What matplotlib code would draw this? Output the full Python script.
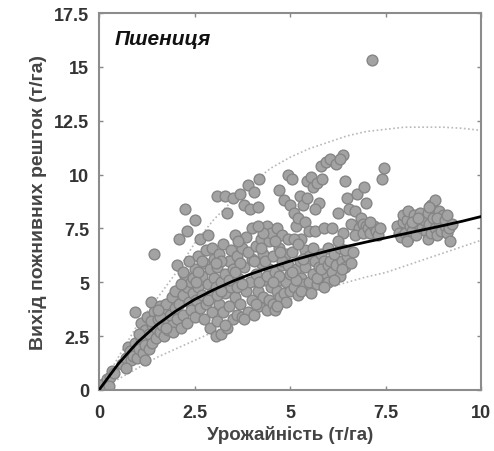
import matplotlib
matplotlib.use("Agg")
import matplotlib.pyplot as plt

plt.rcParams['font.family'] = ['Liberation Sans', 'DejaVu Sans']

# ---- data ----
pts = [
    (0.05,0.1),(0.1,0.3),(0.2,0.5),(0.3,0.6),(0.35,0.9),(0.4,0.8),(0.25,0.2),
    (0.6,1.2),(0.7,1.5),(0.75,2.0),(0.8,1.8),(0.85,1.4),(0.9,1.6),(0.95,2.2),(0.95,3.6),(0.7,1.0),
    (1.0,1.5),(1.05,1.9),(1.1,2.4),(1.1,3.1),(1.15,1.7),(1.2,2.1),(1.2,2.8),(1.25,3.4),(1.3,1.9),
    (1.3,2.6),(1.35,4.1),(1.4,2.2),(1.4,3.0),(1.45,6.3),(1.45,3.6),(1.5,2.4),(1.5,2.9),(1.35,3.2),
    (1.2,1.4),(1.05,2.6),
    (1.55,3.3),(1.6,3.9),(1.6,2.7),(1.65,3.0),(1.7,3.6),(1.7,2.5),(1.75,4.0),(1.8,3.2),(1.8,2.8),
    (1.85,3.5),(1.9,4.3),(1.9,3.0),(1.95,2.7),(2.0,3.8),(2.0,4.6),(1.6,3.4),(1.75,2.9),(1.55,3.7),
    (2.05,5.8),(2.05,3.3),(2.1,7.0),(2.1,4.0),(2.15,2.9),(2.2,4.4),(2.2,3.5),(2.25,8.4),(2.25,5.3),
    (2.3,7.4),(2.3,4.8),(2.3,3.1),(2.35,4.1),(2.4,3.7),(2.4,5.0),(2.45,4.5),(2.5,7.9),(2.5,3.4),
    (2.5,5.6),(2.15,4.9),(2.35,6.0),(2.45,5.2),(2.2,5.5),
    (2.55,4.2),(2.6,4.8),(2.6,6.2),(2.65,7.0),(2.65,3.8),(2.7,5.3),(2.7,4.4),(2.75,5.9),(2.8,4.0),
    (2.8,6.5),(2.85,7.2),(2.85,4.9),(2.9,2.9),(2.9,5.6),(2.95,3.6),(2.95,4.5),(3.0,6.1),(3.0,5.2),
    (2.6,5.5),(2.75,3.3),(2.55,5.0),(2.7,6.0),(2.85,4.2),(2.95,6.6),
    (3.05,2.5),(3.05,4.8),(3.1,9.0),(3.1,3.2),(3.1,5.7),(3.15,6.3),(3.15,4.0),(3.2,2.6),(3.2,5.0),
    (3.25,3.6),(3.25,6.8),(3.3,9.0),(3.3,4.5),(3.3,5.4),(3.35,8.2),(3.35,2.9),(3.4,6.0),(3.4,3.9),
    (3.45,4.8),(3.5,8.9),(3.5,5.6),(3.5,3.3),(3.1,4.4),(3.2,6.0),(3.3,3.0),(3.45,6.5),(3.4,5.1),
    (3.05,5.9),(3.2,4.6),
    (3.55,7.2),(3.55,4.3),(3.6,6.2),(3.6,3.5),(3.65,5.2),(3.7,9.1),(3.7,4.0),(3.75,6.6),(3.75,3.4),
    (3.8,5.7),(3.8,8.6),(3.85,4.6),(3.85,7.1),(3.9,9.5),(3.9,3.6),(3.95,5.0),(3.95,8.4),(4.0,6.1),
    (4.0,4.2),(4.0,7.5),(3.6,4.8),(3.7,5.9),(3.8,3.3),(3.65,6.9),(3.9,6.4),(3.75,4.9),(3.55,5.5),
    (4.05,3.5),(4.05,9.2),(4.1,5.4),(4.1,6.7),(4.15,4.6),(4.15,8.5),(4.2,9.8),(4.2,3.9),(4.25,5.9),
    (4.25,7.0),(4.3,4.3),(4.3,6.3),(4.35,5.1),(4.4,7.6),(4.4,3.7),(4.45,5.6),(4.45,6.9),(4.5,4.8),
    (4.5,7.3),(4.1,4.0),(4.2,5.0),(4.3,7.3),(4.35,6.0),(4.45,4.2),(4.05,6.0),(4.25,6.6),(4.4,5.3),
    (4.15,7.6),
    (4.55,4.0),(4.55,6.2),(4.6,3.7),(4.6,5.5),(4.65,7.5),(4.65,4.6),(4.7,6.6),(4.7,9.3),(4.75,5.1),
    (4.75,4.3),(4.8,7.2),(4.8,5.8),(4.85,8.8),(4.85,4.5),(4.9,6.3),(4.9,5.0),(4.95,10.0),(4.95,7.0),
    (5.0,8.6),(5.0,5.4),(5.0,4.6),(4.6,6.9),(4.7,5.3),(4.8,6.0),(4.9,4.1),(4.55,5.0),(4.75,6.4),
    (4.95,5.8),(4.65,3.9),
    (5.05,9.8),(5.05,6.4),(5.1,8.2),(5.1,4.8),(5.15,7.6),(5.15,5.6),(5.2,8.0),(5.2,4.4),(5.25,6.0),
    (5.25,9.0),(5.3,5.2),(5.3,7.0),(5.35,8.6),(5.35,4.9),(5.4,6.5),(5.4,5.7),(5.45,8.9),(5.45,9.7),
    (5.5,6.2),(5.5,5.0),(5.1,7.0),(5.2,6.8),(5.3,4.6),(5.4,7.8),(5.15,5.1),(5.35,6.1),(5.05,5.5),
    (5.5,7.4),
    (5.55,4.5),(5.55,9.9),(5.6,5.4),(5.6,9.4),(5.65,6.0),(5.65,7.4),(5.7,9.6),(5.7,4.9),(5.75,5.7),
    (5.75,8.7),(5.8,10.4),(5.8,6.3),(5.85,5.1),(5.85,9.8),(5.9,6.0),(5.9,7.5),(5.95,5.4),(5.95,10.6),
    (6.0,6.6),(6.0,5.0),(5.6,6.6),(5.7,5.2),(5.8,5.6),(5.9,4.8),(6.0,5.8),(5.65,8.4),
    (6.05,10.7),(6.05,6.0),(6.1,5.5),(6.1,7.5),(6.15,6.3),(6.2,10.5),(6.2,5.8),(6.25,8.2),(6.3,6.6),
    (6.3,5.3),(6.35,6.0),(6.4,10.9),(6.4,7.3),(6.45,9.7),(6.45,5.7),(6.5,8.9),(6.5,6.2),(6.15,5.1),
    (6.35,5.6),(6.25,6.9),(6.45,6.5),(6.3,10.7),
    (6.55,8.4),(6.6,5.9),(6.6,7.7),(6.65,6.4),(6.7,8.3),(6.75,9.1),(6.8,7.5),(6.85,8.0),(6.9,7.7),
    (6.95,9.4),(7.0,8.7),(7.0,7.6),(6.7,7.2),(6.9,7.3),
    (7.05,7.5),(7.1,7.3),(7.15,15.3),(7.2,7.6),(7.25,7.4),(7.3,7.2),(7.4,9.8),(7.45,10.3),(7.1,7.8),
    (7.35,7.5),
    (7.8,7.6),(7.85,7.3),(7.9,7.1),(7.95,7.8),(7.95,8.1),
    (8.0,7.3),(8.05,7.9),(8.1,7.0),(8.1,8.3),(8.15,7.6),(8.2,7.4),(8.25,8.1),(8.3,7.2),(8.35,7.7),
    (8.4,8.2),(8.45,7.5),(8.5,7.9),(8.05,6.9),(8.2,7.8),(8.35,8.0),
    (8.55,7.4),(8.6,8.2),(8.6,7.0),(8.65,7.7),(8.7,8.6),(8.7,7.3),(8.75,8.0),(8.8,8.8),(8.8,7.5),
    (8.85,7.2),(8.9,8.3),(8.9,7.8),(8.95,7.4),(9.0,8.1),(8.65,8.5),(8.85,8.0),
    (9.05,7.6),(9.05,7.9),(9.1,7.3),(9.15,7.5),(9.2,6.9),(9.25,7.7),(9.1,8.1),
]
yield_x = [p[0] for p in pts]
residue_y = [p[1] for p in pts]

fit_x = [0, 0.5, 1, 1.5, 2, 2.5, 3, 3.5, 4, 4.5, 5, 5.5, 6, 6.5, 7, 7.5, 8, 8.5, 9, 9.5, 10]
fit_y = [0, 1.2, 2.2, 3.0, 3.65, 4.2, 4.65, 5.05, 5.4, 5.7, 5.98, 6.23, 6.46, 6.67, 6.87, 7.06,
         7.25, 7.44, 7.63, 7.83, 8.05]
upper_y = [0, 1.5, 3.0, 4.2, 5.4, 6.8, 7.9, 8.8, 9.6, 10.3, 10.8, 11.2, 11.5, 11.8, 12.0, 12.1,
           12.2, 12.2, 12.2, 12.15, 12.05]
lower_y = [0, 0.5, 1.0, 1.5, 1.9, 2.3, 2.7, 3.1, 3.5, 3.9, 4.2, 4.5, 4.75, 5.0, 5.25, 5.45,
           5.75, 6.05, 6.35, 6.65, 6.95]

xticks = [0, 2.5, 5, 7.5, 10]
xtick_labels = ['0', '2.5', '5', '7.5', '10']
yticks = [0, 2.5, 5, 7.5, 10, 12.5, 15, 17.5]
ytick_labels = ['0', '2.5', '5', '7.5', '10', '12.5', '15', '17.5']

# ---- figure ----
fig = plt.figure(figsize=(4.94, 4.52), dpi=100)
ax = fig.add_axes([0.2004, 0.1350, 0.7733, 0.8340])

ax.plot(fit_x, upper_y, linestyle=(0, (1, 1.5)), color='#b8b8b8', lw=1.2, zorder=1)
ax.plot(fit_x, lower_y, linestyle=(0, (1, 1.5)), color='#b8b8b8', lw=1.2, zorder=1)
ax.scatter(yield_x, residue_y, s=60, facecolor='#a3a3a3', edgecolor='#858585', linewidth=1.0, zorder=2)
ax.plot(fit_x, fit_y, color='black', lw=2.0, zorder=3, solid_joinstyle='round')

ax.set_xlim(0, 10)
ax.set_ylim(0, 17.5)
ax.set_xticks(xticks)
ax.set_xticklabels(xtick_labels)
ax.set_yticks(yticks)
ax.set_yticklabels(ytick_labels)
ax.tick_params(direction='in', length=3, width=1, color='#888888', top=True, right=True,
               labelsize=13, labelcolor='#333333')
ax.tick_params(axis='x', pad=10)
ax.tick_params(axis='y', pad=7)
for lab in ax.get_xticklabels() + ax.get_yticklabels():
    lab.set_fontweight('bold')
for sp in ax.spines.values():
    sp.set_color('#8c8c8c')
    sp.set_linewidth(1.5)

ax.set_xlabel('Урожайність (т/га)', fontsize=13.5, fontweight='bold', color='#444444', labelpad=3)
ax.set_ylabel('Вихід пожнивних решток (т/га)', fontsize=14, fontweight='bold', color='#444444', labelpad=5)
ax.text(0.42, 16.3, 'Пшениця', fontsize=15, fontweight='bold', fontstyle='italic', color='#111111',
        ha='left', va='center')

fig.savefig('out.png', dpi=100)
